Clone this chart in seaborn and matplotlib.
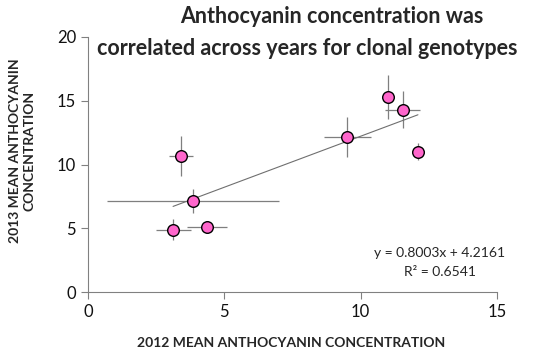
import matplotlib
matplotlib.use("Agg")
import matplotlib.pyplot as plt
import seaborn as sns
import numpy as np
import pandas as pd

# Data
x2012 = [3.42, 3.85, 3.12, 4.35, 11.0, 11.54, 9.51, 12.1]
y2013 = [10.7, 7.11, 4.9, 5.12, 15.3, 14.3, 12.15, 11.0]
x_err = [0.44, 3.14, 0.64, 0.73, 0.0, 0.64, 0.86, 0.0]
y_err = [1.57, 0.95, 0.8, 0.3, 1.73, 1.47, 1.57, 0.67]
slope = 0.8003
intercept = 4.2161
r_squared = 0.6541
x_ticks = [0, 5, 10, 15]
y_ticks = [0, 5, 10, 15, 20]

title_lines = ["Anthocyanin concentration was",
               "correlated across years for clonal genotypes"]
x_label = "2012 MEAN ANTHOCYANIN CONCENTRATION"
y_label = "2013 MEAN ANTHOCYANIN\nCONCENTRATION"

df = pd.DataFrame({"x": x2012, "y": y2013, "xe": x_err, "ye": y_err})

sns.set_theme(style="ticks")
plt.rcParams["font.family"] = ["Lato", "DejaVu Sans"]

fig = plt.figure(figsize=(5.52, 3.5), dpi=100)
ax = fig.add_axes([0.1594, 0.1657, 0.9004 - 0.1594, 0.8943 - 0.1657])

ax.errorbar(df["x"], df["y"], xerr=df["xe"], yerr=df["ye"], fmt="none",
            ecolor="#7f7f7f", elinewidth=0.9, capsize=0, zorder=2)

xs = np.array([min(x2012), max(x2012)])
ax.plot(xs, slope * xs + intercept, color="#6f6f6f", lw=0.8, zorder=3)

sns.scatterplot(data=df, x="x", y="y", ax=ax, s=70, color="#ff66cc",
                edgecolor="black", linewidth=1.0, zorder=4, legend=False)

ax.set_xlim(0, 15)
ax.set_ylim(0, 20)
ax.set_xticks(x_ticks)
ax.set_yticks(y_ticks)
ax.tick_params(axis="both", labelsize=12, colors="#808080", labelcolor="#111111",
               length=5, width=0.8)
for s in ["top", "right"]:
    ax.spines[s].set_visible(False)
for s in ["left", "bottom"]:
    ax.spines[s].set_color("#808080")
    ax.spines[s].set_linewidth(0.8)

ax.set_xlabel(x_label, fontsize=10, fontweight="bold")
ax.set_ylabel(y_label, fontsize=10, fontweight="bold", linespacing=1.25)
ax.xaxis.set_label_coords(0.4975, -0.2)
ax.yaxis.set_label_coords(-0.161, 0.553)
ax.xaxis.label.set_va("center")
ax.yaxis.label.set_va("center")

fig.text(332 / 552, 1 - 23 / 350, title_lines[0], ha="center", va="baseline",
         fontsize=15.5, fontweight="bold")
fig.text(307 / 552, 1 - 55 / 350, title_lines[1], ha="center", va="baseline",
         fontsize=15.5, fontweight="bold")

fig.text(440 / 552, 1 - 253 / 350, f"y = {slope:.4f}x + {intercept:.4f}",
         ha="center", va="center", fontsize=10)
fig.text(440 / 552, 1 - 272 / 350, f"R² = {r_squared:.4f}",
         ha="center", va="center", fontsize=10)

fig.savefig("out.png", dpi=100)
